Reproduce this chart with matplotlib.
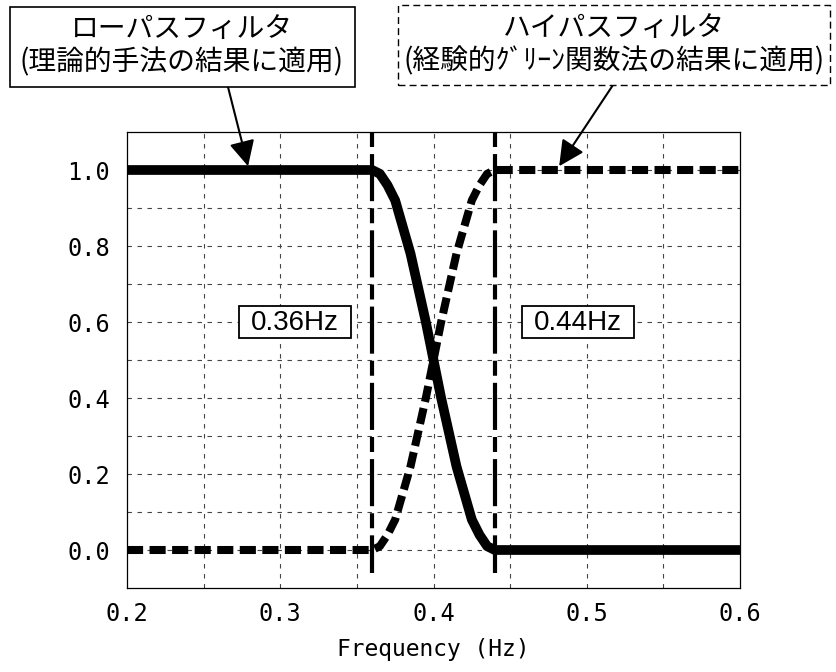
import numpy as np
import matplotlib
matplotlib.use("Agg")
import matplotlib.pyplot as plt
from matplotlib.patches import Rectangle

# filter shapes (cosine taper between the two corners)
freq = [0.2, 0.36, 0.365, 0.37, 0.375, 0.38, 0.385, 0.39, 0.395, 0.40,
        0.405, 0.41, 0.415, 0.42, 0.425, 0.43, 0.435, 0.44, 0.6]
lowpass = [1.0, 1.0, 0.99, 0.96, 0.92, 0.85, 0.78, 0.69, 0.60, 0.50,
           0.40, 0.31, 0.22, 0.15, 0.08, 0.04, 0.01, 0.0, 0.0]
highpass = [0.0, 0.0, 0.01, 0.04, 0.08, 0.15, 0.22, 0.31, 0.40, 0.50,
            0.60, 0.69, 0.78, 0.85, 0.92, 0.96, 0.99, 1.0, 1.0]

corner_freqs = [0.36, 0.44]
corner_labels = ["0.36Hz", "0.44Hz"]
corner_label_x = [0.3095, 0.4944]

xticks = [0.2, 0.3, 0.4, 0.5, 0.6]
yticks = [0.0, 0.2, 0.4, 0.6, 0.8, 1.0]

jp = ["Noto Sans CJK JP", "DejaVu Sans"]
mono = "DejaVu Sans Mono"

fig = plt.figure(figsize=(8.36, 6.72), dpi=100)
ax = fig.add_axes([127 / 836, 1 - 588 / 672, 613 / 836, 456 / 672])

# grid
for gx in np.arange(0.25, 0.6, 0.05):
    ax.axvline(gx, color="#444444", lw=0.8, ls=(0, (4, 5)), zorder=1)
for gy in np.arange(0.0, 1.01, 0.1):
    ax.axhline(gy, color="#444444", lw=0.8, ls=(0, (4, 5)), zorder=1)

# filters
ax.plot(freq, highpass, color="black", lw=5.8, ls=(0, (2.0, 0.8)),
        dash_capstyle="butt", dash_joinstyle="round", zorder=3, clip_on=False)
ax.plot(freq, lowpass, color="black", lw=7, solid_capstyle="butt",
        solid_joinstyle="round", zorder=4, clip_on=False)

# corner frequencies
for fc, lab, lx in zip(corner_freqs, corner_labels, corner_label_x):
    ax.plot([fc, fc], [1.1, -0.06], color="black", lw=3,
            ls=(0, (3.6, 1.7, 11.3, 1.7)), dash_capstyle="butt", zorder=5)
    ax.add_patch(Rectangle((lx - 0.0367, 0.559), 0.0734, 0.082, fc="white",
                           ec="black", lw=1.3, zorder=6))
    ax.text(lx, 0.597, lab, fontsize=20, family="Liberation Sans",
            ha="center", va="center", zorder=7)

ax.set_xlim(0.2, 0.6)
ax.set_ylim(-0.1, 1.1)
ax.set_xticks(xticks)
ax.set_yticks(yticks)
ax.set_xticklabels([f"{v:.1f}" for v in xticks], family=mono, fontsize=17)
ax.set_yticklabels([f"{v:.1f}" for v in yticks], family=mono, fontsize=17)
ax.tick_params(axis="both", length=0)
ax.tick_params(axis="y", pad=12)
ax.tick_params(axis="x", pad=10)
ax.set_xlabel("Frequency (Hz)", family=mono, fontsize=16.5, labelpad=9)
for s in ax.spines.values():
    s.set_linewidth(0.9)

# callout boxes
fig.patches.append(Rectangle((10 / 836, 1 - 87 / 672), 345 / 836, 80 / 672,
                             transform=fig.transFigure, fc="white", ec="black", lw=1.2))
fig.patches.append(Rectangle((398 / 836, 1 - 85 / 672), 432 / 836, 80 / 672,
                             transform=fig.transFigure, fc="white", ec="black",
                             lw=1.0, ls=(0, (5, 3))))
fig.text(182 / 836, 1 - 46 / 672, "ローパスフィルタ\n(理論的手法の結果に適用)",
         family=jp, fontsize=20, ha="center", va="center", linespacing=1.15)
fig.text(614 / 836, 1 - 45 / 672, "ハイパスフィルタ\n(経験的ｸﾞﾘｰﾝ関数法の結果に適用)",
         family=jp, fontsize=20, ha="center", va="center", linespacing=1.15)

ax.annotate("", xy=(0.279, 1.01), xycoords="data",
            xytext=(228 / 836, 1 - 87 / 672), textcoords="figure fraction",
            arrowprops=dict(arrowstyle="-|>,head_length=0.6,head_width=0.3",
                            color="black", lw=1.5, mutation_scale=26,
                            shrinkA=0, shrinkB=0),
            annotation_clip=False, zorder=7)
ax.annotate("", xy=(0.482, 1.01), xycoords="data",
            xytext=(613 / 836, 1 - 85 / 672), textcoords="figure fraction",
            arrowprops=dict(arrowstyle="-|>,head_length=0.6,head_width=0.3",
                            color="black", lw=1.5, mutation_scale=26,
                            shrinkA=0, shrinkB=0),
            annotation_clip=False, zorder=7)

fig.savefig("out.png", dpi=100)
